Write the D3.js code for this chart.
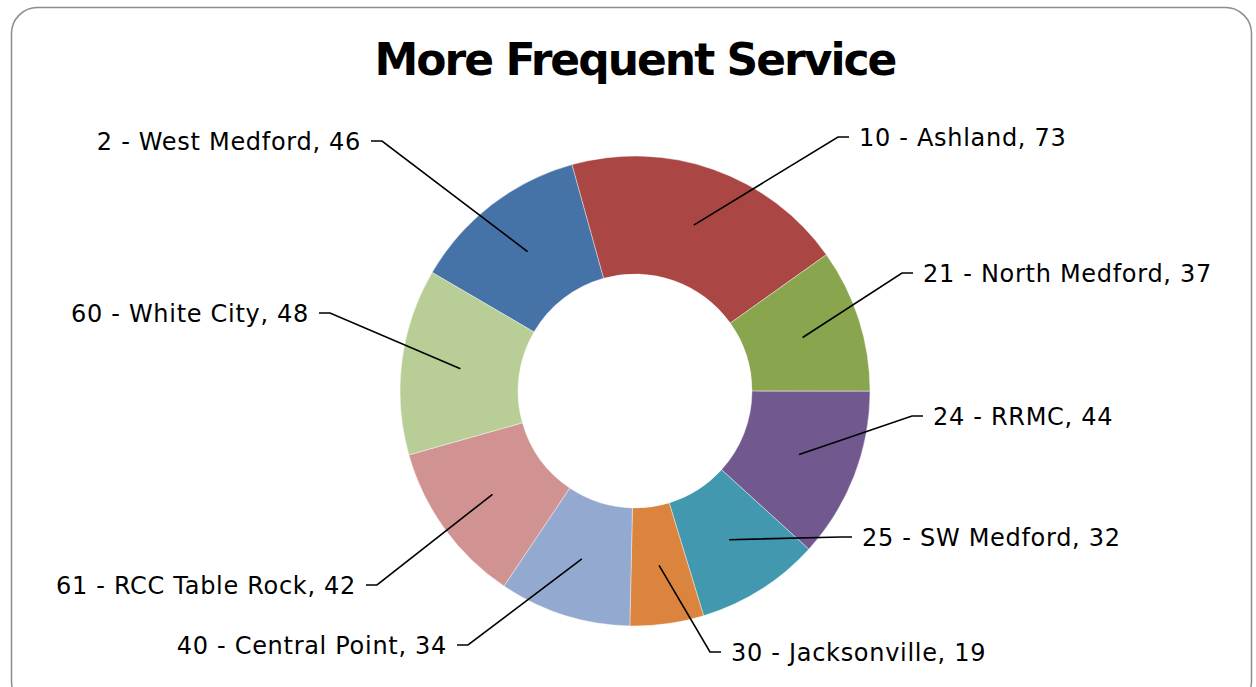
<!DOCTYPE html>
<html>
<head>
<meta charset="utf-8">
<script src="https://cdn.jsdelivr.net/npm/d3@7"></script>
<style>
    body { margin: 0; background: #fff; }
    text { font-family: "DejaVu Sans", sans-serif; fill: #000; }
</style>
</head>
<body>
<div id="chart"></div>
<script>
// data, in the order the source sheet lists it
const routes = ["2 - West Medford", "10 - Ashland", "21 - North Medford", "24 - RRMC",
    "25 - SW Medford", "30 - Jacksonville", "40 - Central Point", "61 - RCC Table Rock", "60 - White City"];
const trips = [46, 73, 37, 44, 32, 19, 34, 42, 48];
const colors = ["#4572A7", "#AA4643", "#89A54E", "#71588F", "#4198AF",
    "#DB843D", "#93A9CF", "#D19392", "#B9CD96"];

// where each leader line bends (offset from donut center) and which side the text sits
const elbows = [[-253, -250, "l"], [203, -254, "r"], [267, -118, "r"], [277, 25, "r"],
    [206, 146, "r"], [75, 261, "r"], [-167, 254, "l"], [-258, 194, "l"], [-305, -78, "l"]];

const width = 1256, height = 687;
const cx = 635, cy = 391;
const outer = 235, inner = 117;

const svg = d3.select("#chart")
    .append("svg")
    .attr("width", width)
    .attr("height", height);

// chart frame
svg.append("rect")
    .attr("x", 11.5).attr("y", 7.5)
    .attr("width", 1240).attr("height", 700)
    .attr("rx", 26).attr("ry", 26)
    .attr("fill", "#fff")
    .attr("stroke", "#8c8c8c")
    .attr("stroke-width", 1.5);

svg.append("text")
    .attr("x", cx)
    .attr("y", 59)
    .attr("text-anchor", "middle")
    .attr("dominant-baseline", "central")
    .attr("font-size", 44)
    .attr("font-weight", "bold")
    .attr("letter-spacing", -2)
    .text("More Frequent Service");

const data = routes.map((r, i) => ({ name: r, value: trips[i], color: colors[i], elbow: elbows[i] }));

// first slice starts at about 300 degrees, like the original
const pie = d3.pie()
    .sort(null)
    .value(d => d.value)
    .startAngle(-59.7 * Math.PI / 180)
    .endAngle((360 - 59.7) * Math.PI / 180);

const arc = d3.arc().innerRadius(inner).outerRadius(outer);
const mid = d3.arc().innerRadius((inner + outer) / 2).outerRadius((inner + outer) / 2);

let g = svg.append("g")
    .attr("transform", `translate(${cx}, ${cy})`);

g.selectAll("path.slice")
    .data(pie(data))
    .enter()
    .append("path")
    .attr("class", "slice")
    .attr("d", arc)
    .attr("fill", d => d.data.color)
    .attr("stroke", "#fff")
    .attr("stroke-width", 0.4);

// leader lines
g.selectAll("polyline")
    .data(pie(data))
    .enter()
    .append("polyline")
    .attr("fill", "none")
    .attr("stroke", "#000")
    .attr("stroke-width", 1.6)
    .attr("points", function (d) {
        let p = mid.centroid(d);
        let e = d.data.elbow;
        let tick = e[2] == "r" ? e[0] + 11 : e[0] - 11;
        return [p, [e[0], e[1]], [tick, e[1]]].map(q => q.join(",")).join(" ");
    });

g.selectAll("text.label")
    .data(pie(data))
    .enter()
    .append("text")
    .attr("class", "label")
    .attr("x", d => d.data.elbow[2] == "r" ? d.data.elbow[0] + 21 : d.data.elbow[0] - 21)
    .attr("y", d => d.data.elbow[1] + 1)
    .attr("text-anchor", d => d.data.elbow[2] == "r" ? "start" : "end")
    .attr("dominant-baseline", "central")
    .attr("font-size", 24)
    .attr("letter-spacing", 0.7)
    .text(d => `${d.data.name}, ${d.data.value}`);
</script>
</body>
</html>
